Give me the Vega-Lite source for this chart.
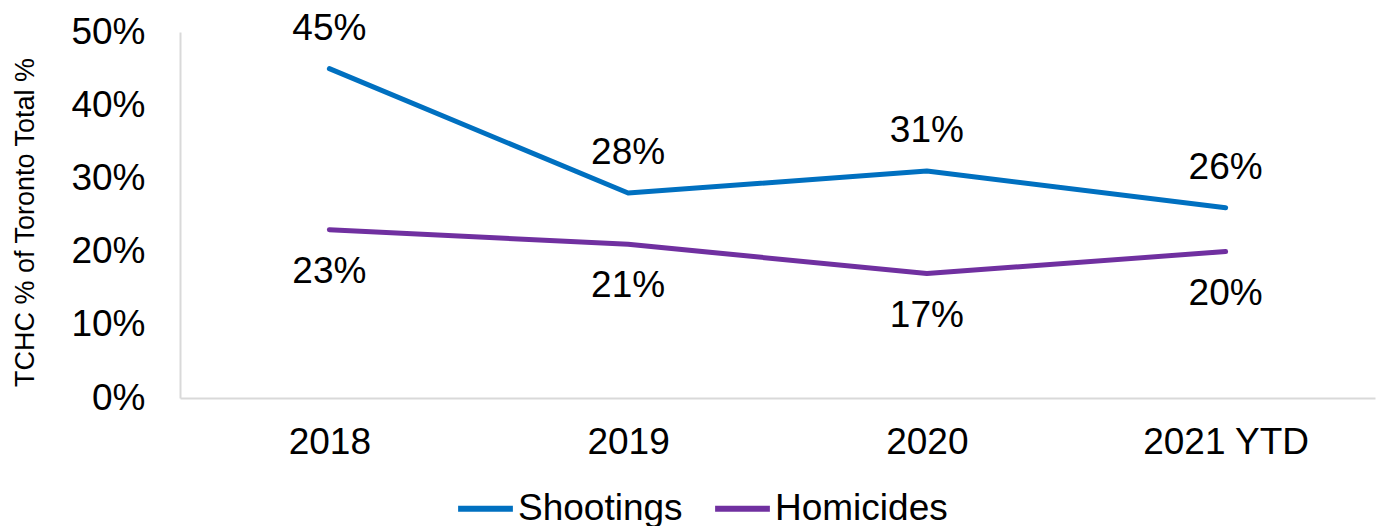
{
  "$schema": "https://vega.github.io/schema/vega-lite/v6.json",
  "width": 1195,
  "height": 366,
  "autosize": "none",
  "padding": {"left": 180, "top": 32, "right": 7, "bottom": 128},
  "background": "white",
  "config": {
    "view": {"stroke": null},
    "font": "Liberation Sans",
    "text": {"font": "Liberation Sans"}
  },
  "data": {
    "values": [
      {"year": "2018", "series": "Shootings", "value": 0.45},
      {"year": "2019", "series": "Shootings", "value": 0.28},
      {"year": "2020", "series": "Shootings", "value": 0.31},
      {"year": "2021 YTD", "series": "Shootings", "value": 0.26},
      {"year": "2018", "series": "Homicides", "value": 0.23},
      {"year": "2019", "series": "Homicides", "value": 0.21},
      {"year": "2020", "series": "Homicides", "value": 0.17},
      {"year": "2021 YTD", "series": "Homicides", "value": 0.20}
    ]
  },
  "encoding": {
    "x": {
      "field": "year", "type": "ordinal", "sort": null,
      "scale": {"type": "point", "padding": 0.5},
      "axis": {
        "title": null, "labelAngle": 0, "labelFontSize": 37, "labelColor": "#000000",
        "labelFont": "Liberation Sans", "ticks": false, "labelPadding": 26,
        "domainColor": "#d9d9d9", "domainWidth": 2
      }
    },
    "y": {
      "field": "value", "type": "quantitative",
      "scale": {"domain": [0, 0.5], "nice": false},
      "axis": {
        "format": ".0%", "values": [0, 0.1, 0.2, 0.3, 0.4, 0.5],
        "title": "TCHC % of Toronto Total %", "titleFontSize": 27, "titleFontWeight": "normal",
        "titleColor": "#000000", "titleFont": "Liberation Sans",
        "titleX": -155, "titleY": 190, "titleAngle": 270, "titleAlign": "center", "titleBaseline": "middle",
        "labelFontSize": 37, "labelColor": "#000000", "labelFont": "Liberation Sans",
        "labelPadding": 35, "ticks": false, "grid": false,
        "domainColor": "#d9d9d9", "domainWidth": 2
      }
    }
  },
  "layer": [
    {
      "mark": {"type": "line", "strokeWidth": 5, "strokeCap": "round", "strokeJoin": "round"},
      "encoding": {
        "color": {
          "field": "series", "type": "nominal",
          "scale": {"domain": ["Shootings", "Homicides"], "range": ["#0070C0", "#7030A0"]},
          "legend": {
            "title": null, "orient": "none", "direction": "horizontal",
            "legendX": 275, "legendY": 446,
            "symbolType": "stroke", "symbolSize": 3000, "symbolStrokeWidth": 6,
            "labelFontSize": 37, "labelColor": "#000000", "labelFont": "Liberation Sans",
            "labelOffset": 2, "columnPadding": 20, "labelLimit": 300
          }
        }
      }
    },
    {
      "transform": [{"filter": "datum.series === 'Shootings'"}],
      "mark": {"type": "text", "dy": -40, "fontSize": 37, "color": "#000000", "font": "Liberation Sans"},
      "encoding": {"text": {"field": "value", "type": "quantitative", "format": ".0%"}}
    },
    {
      "transform": [{"filter": "datum.series === 'Homicides'"}],
      "mark": {"type": "text", "dy": 42, "fontSize": 37, "color": "#000000", "font": "Liberation Sans"},
      "encoding": {"text": {"field": "value", "type": "quantitative", "format": ".0%"}}
    }
  ]
}
